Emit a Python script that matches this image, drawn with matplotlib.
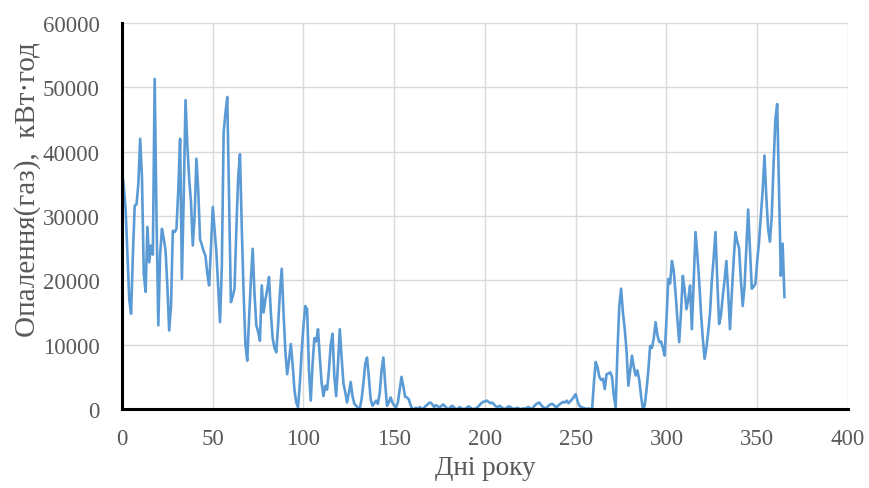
import numpy as np
import matplotlib
matplotlib.use("Agg")
import matplotlib.pyplot as plt

plt.rcParams['font.family'] = ['Liberation Serif', 'DejaVu Serif']

# daily heating (gas) energy, kWh
heat = [
    37300, 34500, 31000, 24000, 17000, 14800, 24000, 31600, 31800, 35000,
    42000, 36000, 21000, 18200, 28300, 22800, 25400, 24000, 51300, 30000,
    13000, 24000, 28000, 26500, 24600, 19000, 12200, 16000, 27700, 27500,
    28000, 34000, 42000, 20200, 33000, 48000, 41000, 35800, 32200, 25400,
    30000, 38900, 34000, 26400, 25500, 24500, 23800, 21000, 19200, 25000,
    31400, 28000, 24400, 19000, 13500, 22000, 43000, 46000, 48500, 33000,
    16600, 17500, 18700, 28000, 36000, 39600, 28000, 18000, 10000, 7500,
    14000, 20000, 24900, 18000, 13000, 12000, 10600, 19200, 15000, 17000,
    18500, 20500, 15000, 11000, 9500, 8800, 13000, 18000, 21800, 15000,
    9000, 5400, 7500, 10100, 7000, 3000, 1000, 300, 4000, 9000,
    13000, 16000, 15500, 6000, 1300, 7000, 11000, 10500, 12400, 8000,
    4000, 2000, 3600, 3000, 6000, 10000, 11700, 5000, 2000, 7000,
    12400, 8000, 4000, 2600, 1000, 2500, 4200, 2000, 800, 500,
    200, 0, 1500, 4000, 7000, 8000, 5000, 1500, 500, 900,
    1300, 800, 2500, 6000, 8000, 4000, 500, 1000, 1800, 1000,
    500, 300, 1000, 3000, 5000, 3500, 1900, 1800, 1500, 600,
    0, 0, 200, 0, 300, 100, 0, 400, 600, 900,
    1000, 700, 300, 600, 400, 200, 500, 700, 400, 100,
    0, 300, 500, 200, 0, 0, 300, 100, 0, 0,
    200, 400, 200, 0, 0, 100, 300, 600, 900, 1100,
    1200, 1300, 1100, 900, 1000, 700, 400, 300, 500, 300,
    100, 0, 200, 400, 300, 100, 0, 100, 200, 0,
    0, 100, 0, 200, 300, 100, 0, 400, 700, 900,
    1000, 600, 300, 100, 200, 500, 700, 800, 600, 300,
    400, 700, 900, 1100, 1000, 1300, 900, 1200, 1500, 1900,
    2300, 1200, 500, 300, 200, 100, 0, 100, 0, 0,
    4000, 7300, 6500, 5000, 4500, 4700, 3100, 5400, 5500, 5700,
    5000, 2000, 300, 9000, 16000, 18700, 15000, 12400, 9000, 3600,
    6000, 8300, 6500, 5200, 6000, 4500, 2000, 0, 500, 3000,
    6000, 9800, 9500, 11000, 13500, 11500, 10400, 10500, 9500, 8300,
    14000, 20200, 19500, 23000, 21500, 18000, 14000, 10400, 15000, 20700,
    18500, 15500, 17000, 19200, 12400, 20000, 27500, 24000, 20000, 15000,
    11000, 7800, 9500, 12000, 15000, 20000, 23500, 27500, 20000, 13200,
    14500, 17500, 20000, 23000, 18000, 12400, 18000, 23000, 27500, 26000,
    25000, 20000, 16000, 19000, 25000, 31000, 25000, 18700, 19000, 19500,
    23000, 26000, 30000, 34000, 39400, 33000, 28000, 26000, 30000, 38000,
    45000, 47400, 34000, 20700, 25700, 17400,
]
days = np.arange(len(heat))

x_ticks = [0, 50, 100, 150, 200, 250, 300, 350, 400]
y_ticks = [0, 10000, 20000, 30000, 40000, 50000, 60000]

fig = plt.figure(figsize=(8.69, 4.89), dpi=100)
ax = fig.add_axes([0.1404, 0.1616, 0.8354, 0.7894])

ax.plot(days, heat, color='#5B9BD5', lw=1.9, solid_joinstyle='round')

ax.set_xlim(0, 400)
ax.set_ylim(0, 60000)
ax.set_xticks(x_ticks)
ax.set_yticks(y_ticks)
ax.grid(True, color='#D9D9D9', lw=1.0)
ax.set_axisbelow(True)

for s in ['top', 'right']:
    ax.spines[s].set_visible(False)
for s in ['left', 'bottom']:
    ax.spines[s].set_color('black')
    ax.spines[s].set_linewidth(2.2)
ax.tick_params(length=0, labelsize=16.5, labelcolor='#595959')
ax.tick_params(axis='y', pad=16)
ax.tick_params(axis='x', pad=14)

ax.set_xlabel('Дні року', fontsize=19.5, color='#595959', labelpad=4)
ax.set_ylabel('Опалення(газ),  кВт·год', fontsize=21, color='#595959')
ax.yaxis.set_label_coords(-0.112, 0.57)

fig.savefig('out.png', dpi=100)
